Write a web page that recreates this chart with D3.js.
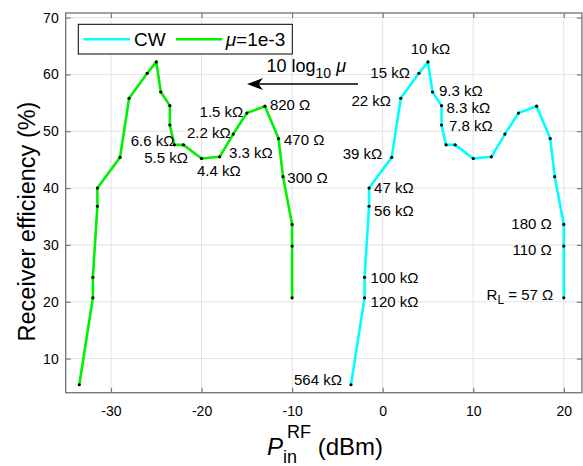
<!DOCTYPE html>
<html>
<head>
<meta charset="utf-8">
<script src="https://cdn.jsdelivr.net/npm/d3@7"></script>
<style>
  html, body { margin: 0; padding: 0; background: #fff; }
  svg { display: block; }
  text { font-family: "Liberation Sans", Arial, Helvetica, sans-serif; fill: #000; }
</style>
</head>
<body>
<svg id="chart" width="583" height="466"></svg>
<script>
// Input RF power (dBm) for continuous wave and for the modulated signal (mu = 1e-3)
const pinCW = [-3.5, -2, -2, -1.5, -1.5, 1, 2, 4, 5, 5.5, 6.5, 6.5, 7, 8, 10, 12, 13.5, 15, 17, 18.5, 19, 20, 20, 20];
const pinMu = [-33.5, -32, -32, -31.5, -31.5, -29, -28, -26, -25, -24.5, -23.5, -23.5, -23, -22, -20, -18, -16.5, -15, -13, -11.5, -11, -10, -10, -10];
// Receiver efficiency (%) at each load resistance
const efficiency = [5.4, 20.7, 24.3, 36.8, 40.0, 45.4, 55.8, 60.2, 62.2, 56.9, 54.5, 51.1, 47.6, 47.6, 45.2, 45.5, 49.5, 53.2, 54.4, 48.7, 42.0, 33.6, 29.8, 20.7];
// Load resistance R_L for each point and the curve whose point carries its label
const loadLabels = ["564 kΩ", "120 kΩ", "100 kΩ", "56 kΩ", "47 kΩ", "39 kΩ", "22 kΩ", "15 kΩ", "10 kΩ", "9.3 kΩ", "8.3 kΩ", "7.8 kΩ",
                    "6.6 kΩ", "5.5 kΩ", "4.4 kΩ", "3.3 kΩ", "2.2 kΩ", "1.5 kΩ", "820 Ω", "470 Ω", "300 Ω", "180 Ω", "110 Ω", "R_L = 57 Ω"];
const labelCurve = ["cw", "cw", "cw", "cw", "cw", "cw", "cw", "cw", "cw", "cw", "cw", "cw",
                    "mu", "mu", "mu", "mu", "mu", "mu", "mu", "mu", "mu", "cw", "cw", "cw"];
const xTicks = [-30, -20, -10, 0, 10, 20];
const yTicks = [10, 20, 30, 40, 50, 60, 70];

// Label offsets from their points: [anchor, dx, dy]
const labelOffsets = [
  ["end", -9, -4.7], ["start", 6, 4], ["start", 6, 0], ["start", 5, 4], ["start", 5, 0],
  ["end", -9.4, -4], ["end", -9.7, 2], ["end", -9, -1], ["middle", 2.5, -13.6],
  ["start", 6.5, -1.3], ["start", 5, 1.6], ["start", 7.5, 1],
  ["end", 0, -4], ["end", 4.6, 12.8], ["start", -4.5, 12.2], ["start", 9.4, -4.1],
  ["end", -2.5, -1.4], ["end", -3.5, -1], ["start", 5, -1.2], ["start", 5.5, 1.4], ["start", 4.3, 1],
  ["end", -12, -1.2], ["end", -12, 4], ["end", -10.5, -2.8]
];

const svg = d3.select("#chart");
const plotLeft = 65.7, plotRight = 581.9, plotTop = 13, plotBottom = 392.7;
const x = d3.scaleLinear().domain([-35, 22]).range([plotLeft, plotRight]);
const y = d3.scaleLinear().domain([4, 70.8]).range([plotBottom, plotTop]);

const cyan = "#00ffff", green = "#00f000";
const axisColor = "#7a7a7a";

// grid
const grid = svg.append("g");
grid.selectAll(".gx").data(xTicks).join("line")
  .attr("x1", d => x(d)).attr("x2", d => x(d)).attr("y1", plotTop).attr("y2", plotBottom)
  .attr("stroke", "#e3e3e3").attr("stroke-width", 1);
grid.selectAll(".gy").data(yTicks).join("line")
  .attr("x1", plotLeft).attr("x2", plotRight).attr("y1", d => y(d)).attr("y2", d => y(d))
  .attr("stroke", "#e3e3e3").attr("stroke-width", 1);

// axes with inward ticks on all four sides
const tl = 5;
const fmt = d => String(d);
svg.append("g").attr("transform", `translate(0,${plotBottom})`)
  .call(d3.axisBottom(x).tickValues(xTicks).tickSizeInner(-tl).tickSizeOuter(0).tickPadding(13).tickFormat(fmt))
  .call(g => g.select(".domain").remove());
svg.append("g").attr("transform", `translate(0,${plotTop})`)
  .call(d3.axisTop(x).tickValues(xTicks).tickSizeInner(-tl).tickSizeOuter(0).tickFormat(""))
  .call(g => g.select(".domain").remove());
svg.append("g").attr("transform", `translate(${plotLeft},0)`)
  .call(d3.axisLeft(y).tickValues(yTicks).tickSizeInner(-tl).tickSizeOuter(0).tickPadding(7).tickFormat(fmt))
  .call(g => g.select(".domain").remove());
svg.append("g").attr("transform", `translate(${plotRight},0)`)
  .call(d3.axisRight(y).tickValues(yTicks).tickSizeInner(-tl).tickSizeOuter(0).tickFormat(""))
  .call(g => g.select(".domain").remove());
svg.selectAll(".tick line").attr("stroke", axisColor).attr("stroke-width", 1.2);
svg.selectAll(".tick text").style("font-size", "14px").attr("fill", "#262626")
  .style("font-family", "'Liberation Sans', Arial, sans-serif");

svg.append("rect").attr("x", plotLeft).attr("y", plotTop)
  .attr("width", plotRight - plotLeft).attr("height", plotBottom - plotTop)
  .attr("fill", "none").attr("stroke", axisColor).attr("stroke-width", 1.4);

// curves
const line = d3.line().x(d => x(d[0])).y(d => y(d[1]));
const cwPts = pinCW.map((p, i) => [p, efficiency[i]]);
const muPts = pinMu.map((p, i) => [p, efficiency[i]]);
svg.append("path").attr("d", line(cwPts)).attr("fill", "none").attr("stroke", cyan)
  .attr("stroke-width", 2.6).attr("stroke-linejoin", "round");
svg.append("path").attr("d", line(muPts)).attr("fill", "none").attr("stroke", green)
  .attr("stroke-width", 2.6).attr("stroke-linejoin", "round");
svg.append("g").selectAll("circle").data(cwPts.concat(muPts)).join("circle")
  .attr("cx", d => x(d[0])).attr("cy", d => y(d[1])).attr("r", 1.6).attr("fill", "#000");

// load resistance labels
const lbl = svg.append("g").style("font-size", "15px");
loadLabels.forEach((t, i) => {
  const pin = labelCurve[i] === "cw" ? pinCW[i] : pinMu[i];
  const [anchor, dx, dy] = labelOffsets[i];
  const el = lbl.append("text")
    .attr("x", x(pin) + dx).attr("y", y(efficiency[i]) + dy + 5.3)
    .attr("text-anchor", anchor);
  const m = t.match(/^(\w)_(\w)(.*)$/);
  if (m) {
    el.append("tspan").text(m[1]);
    el.append("tspan").attr("dy", 4).style("font-size", "12px").text(m[2]);
    el.append("tspan").attr("dy", -4).text(m[3]);
  } else {
    el.text(t);
  }
});

// shift annotation: 10 log10 mu with leftward arrow
const ann = svg.append("text").attr("x", 266.5).attr("y", 71.5).style("font-size", "18px");
ann.append("tspan").text("10 log");
ann.append("tspan").attr("dy", 6).style("font-size", "14px").text("10");
ann.append("tspan").attr("dy", -6).text(" ");
ann.append("tspan").style("font-style", "italic").text("μ");
const ay = 84;
svg.append("line").attr("x1", 358).attr("x2", 256).attr("y1", ay).attr("y2", ay)
  .attr("stroke", "#000").attr("stroke-width", 1.3);
svg.append("path")
  .attr("d", `M247,${ay} L263,${ay - 6} L258.5,${ay} L263,${ay + 6} Z`)
  .attr("fill", "#000");

// legend
const lg = svg.append("g");
lg.append("rect").attr("x", 78.3).attr("y", 24.3).attr("width", 214).attr("height", 29.7)
  .attr("fill", "#fff").attr("stroke", "#000").attr("stroke-width", 1);
lg.append("line").attr("x1", 83.3).attr("x2", 130).attr("y1", 39.3).attr("y2", 39.3)
  .attr("stroke", cyan).attr("stroke-width", 2.6);
lg.append("text").attr("x", 134).attr("y", 46.2).style("font-size", "19px").text("CW");
lg.append("line").attr("x1", 176).attr("x2", 222.3).attr("y1", 39.3).attr("y2", 39.3)
  .attr("stroke", green).attr("stroke-width", 2.6);
const lt = lg.append("text").attr("x", 225.7).attr("y", 46.2).style("font-size", "19px");
lt.append("tspan").style("font-style", "italic").text("μ");
lt.append("tspan").text("=1e-3");

// axis titles
const xl = svg.append("text").attr("x", 267).attr("y", 455).style("font-size", "24px").attr("fill", "#262626");
xl.append("tspan").style("font-style", "italic").text("P");
xl.append("tspan").attr("dy", 8).style("font-size", "18px").text("in");
xl.append("tspan").attr("dx", -10).attr("dy", -25).style("font-size", "18px").text("RF");
xl.append("tspan").attr("dy", 17).text(" (dBm)");

svg.append("text").attr("transform", `translate(35,221.5) rotate(-90)`)
  .attr("text-anchor", "middle").style("font-size", "23.5px").attr("fill", "#262626")
  .text("Receiver efficiency (%)");
</script>
</body>
</html>
